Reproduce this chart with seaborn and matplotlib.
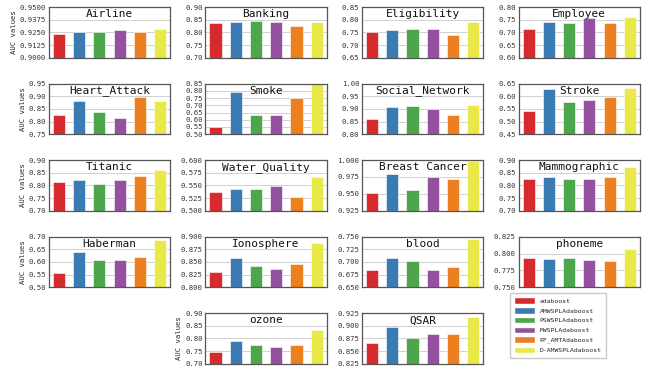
import numpy as np
import pandas as pd
import matplotlib
matplotlib.use("Agg")
import matplotlib.pyplot as plt
from matplotlib.patches import Patch
import seaborn as sns

algorithms = ["adaboost", "AMWSPLAdaboost", "PSWSPLAdaboost",
              "MWSPLAdaboost", "PF_AMTAdaboost", "D-AMWSPLAdaboost"]

datasets = ["Airline", "Banking", "Eligibility", "Employee",
            "Heart_Attack", "Smoke", "Social_Network", "Stroke",
            "Titanic", "Water_Quality", "Breast Cancer", "Mammographic",
            "Haberman", "Ionosphere", "blood", "phoneme",
            "ozone", "QSAR"]

# AUC of each algorithm per dataset
airline = [0.9235, 0.9255, 0.9250, 0.9270, 0.9250, 0.9285]
banking = [0.838, 0.841, 0.843, 0.840, 0.826, 0.840]
eligibility = [0.750, 0.759, 0.764, 0.765, 0.738, 0.792]
employee = [0.715, 0.742, 0.738, 0.755, 0.738, 0.760]
heart_attack = [0.824, 0.882, 0.836, 0.815, 0.895, 0.882]
smoke = [0.553, 0.790, 0.630, 0.630, 0.750, 0.848]
social_network = [0.862, 0.907, 0.912, 0.901, 0.876, 0.915]
stroke = [0.543, 0.628, 0.578, 0.586, 0.597, 0.633]
titanic = [0.812, 0.823, 0.804, 0.823, 0.836, 0.862]
water_quality = [0.537, 0.543, 0.542, 0.548, 0.527, 0.567]
breast_cancer = [0.952, 0.979, 0.955, 0.975, 0.972, 0.998]
mammographic = [0.826, 0.834, 0.826, 0.826, 0.834, 0.872]
haberman = [0.555, 0.638, 0.608, 0.608, 0.621, 0.688]
ionosphere = [0.830, 0.857, 0.842, 0.837, 0.846, 0.887]
blood = [0.685, 0.707, 0.702, 0.685, 0.690, 0.745]
phoneme = [0.793, 0.792, 0.793, 0.791, 0.789, 0.806]
ozone = [0.748, 0.790, 0.776, 0.766, 0.774, 0.833]
qsar = [0.867, 0.897, 0.876, 0.884, 0.884, 0.917]

scores = [airline, banking, eligibility, employee,
          heart_attack, smoke, social_network, stroke,
          titanic, water_quality, breast_cancer, mammographic,
          haberman, ionosphere, blood, phoneme,
          ozone, qsar]

# y-axis range (low, high, step, decimals) for each panel
y_ranges = [(0.90, 0.95, 0.0125, 4), (0.70, 0.90, 0.05, 2), (0.65, 0.85, 0.05, 2),
            (0.60, 0.80, 0.05, 2), (0.75, 0.95, 0.05, 2), (0.50, 0.85, 0.05, 2),
            (0.80, 1.00, 0.05, 2), (0.45, 0.65, 0.05, 2), (0.70, 0.90, 0.05, 2),
            (0.50, 0.60, 0.025, 3), (0.925, 1.00, 0.025, 3), (0.70, 0.90, 0.05, 2),
            (0.50, 0.70, 0.05, 2), (0.80, 0.90, 0.025, 3), (0.65, 0.75, 0.025, 3),
            (0.75, 0.825, 0.025, 3), (0.70, 0.90, 0.05, 2), (0.825, 0.925, 0.025, 3)]

# grid cell of each panel (row, col)
cells = [(r, c) for r in range(4) for c in range(4)] + [(4, 1), (4, 2)]

palette = ["#d62a2e", "#3b7bb4", "#4ea64c", "#93519f", "#ec7f1e", "#e8e848"]

sns.set_theme(style="whitegrid")
plt.rcParams["font.family"] = ["DejaVu Sans Mono", "DejaVu Sans"]

fig = plt.figure(figsize=(6.51, 3.69), dpi=100)
gs = fig.add_gridspec(5, 4, left=0.075, right=0.983, top=0.981, bottom=0.014,
                      wspace=0.29, hspace=0.51)

for name, vals, (lo, hi, step, dec), (r, c) in zip(datasets, scores, y_ranges, cells):
    ax = fig.add_subplot(gs[r, c])
    df = pd.DataFrame({"algorithm": algorithms, "AUC": vals})
    sns.barplot(data=df, x="algorithm", y="AUC", hue="algorithm",
                palette=palette, legend=False, width=0.6, ax=ax,
                edgecolor="white", linewidth=0.4, saturation=1)
    ax.set_ylim(lo, hi)
    ticks = np.round(np.arange(lo, hi + step / 2, step), 4)
    ax.set_yticks(ticks)
    ax.set_yticklabels([f"{t:.{dec}f}" for t in ticks], fontsize=5.2, color="#333333")
    ax.set_xticks([])
    ax.set_xlabel("")
    ax.tick_params(axis="y", length=0, pad=2)
    ax.grid(axis="y", color="#d0d0d0", linewidth=0.7)
    ax.grid(axis="x", visible=False)
    ax.set_axisbelow(True)
    for s in ax.spines.values():
        s.set_color("#555555")
        s.set_linewidth(0.9)
    if c == 0 or name == "ozone":
        ax.set_ylabel("AUC values", fontsize=5.2, labelpad=2)
    else:
        ax.set_ylabel("")
    ax.text(0.5, 0.86, name, transform=ax.transAxes, ha="center", va="center",
            fontsize=8, color="#111111")

handles = [Patch(facecolor=col, edgecolor="white") for col in palette]
fig.legend(handles, algorithms, loc="lower left", bbox_to_anchor=(0.778, 0.022),
           fontsize=4.6, frameon=True, handlelength=3.2, handleheight=1.2,
           labelspacing=0.5, borderpad=0.7, edgecolor="#bbbbbb", fancybox=False)

fig.savefig("out.png", dpi=100)
